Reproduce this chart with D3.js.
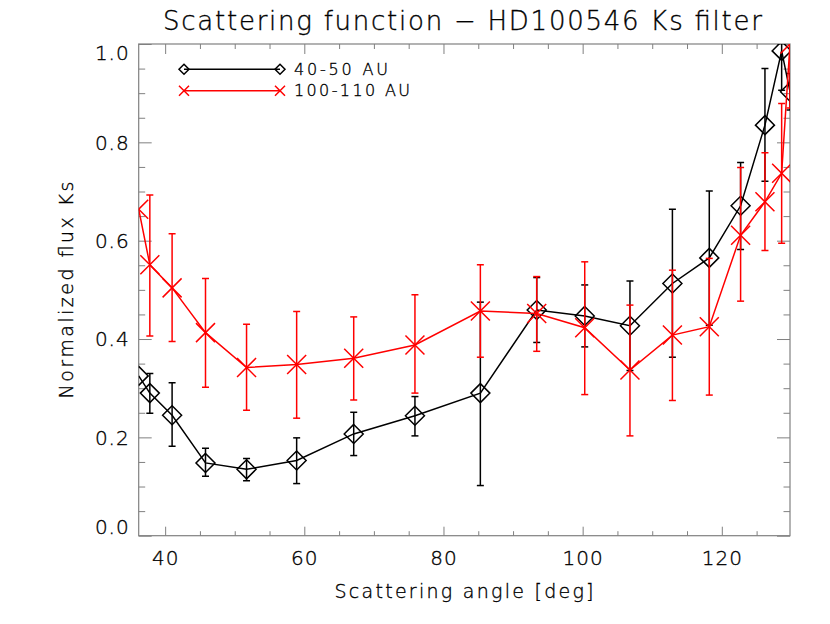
<html>
<head>
<script src="https://cdn.jsdelivr.net/npm/d3@7"></script>
<style>
  body { margin: 0; background: #fff; }
  text { font-family: "DejaVu Sans", sans-serif; font-weight: 200; fill: #000; stroke: #000; stroke-width: 0.35px; }
</style>
</head>
<body>
<svg id="chart" width="830" height="624"></svg>
<script>
// scattering angle [deg], shared by both curves
var angles = [36.2, 37.8, 41.0, 45.8, 51.7, 58.9, 67.1, 75.9, 85.3, 93.4, 100.3, 106.8, 112.9, 118.2, 122.7, 126.2, 128.6, 129.8];

// 40-50 AU (black, diamonds)
var inner = [0.325, 0.290, 0.245, 0.148, 0.135, 0.153, 0.207, 0.244, 0.290, 0.459, 0.447, 0.427, 0.513, 0.565, 0.671, 0.835, 0.986, 0.903];
var innerLo = [null, 0.249, 0.182, 0.121, 0.112, 0.106, 0.163, 0.203, 0.102, 0.393, 0.384, 0.336, 0.363, 0.428, 0.582, 0.721, 0.906, 0.866];
var innerHi = [null, 0.330, 0.311, 0.178, 0.157, 0.199, 0.251, 0.283, 0.475, 0.525, 0.510, 0.518, 0.664, 0.701, 0.759, 0.950, 1.066, 0.940];

// 100-110 AU (red, crosses)
var outer = [0.664, 0.551, 0.504, 0.413, 0.342, 0.348, 0.361, 0.388, 0.457, 0.452, 0.423, 0.337, 0.408, 0.425, 0.611, 0.679, 0.737, 1.000];
var outerLo = [null, 0.406, 0.395, 0.302, 0.255, 0.239, 0.276, 0.290, 0.363, 0.375, 0.287, 0.203, 0.275, 0.286, 0.477, 0.580, 0.595, 0.870];
var outerHi = [null, 0.693, 0.614, 0.523, 0.430, 0.456, 0.445, 0.490, 0.551, 0.527, 0.557, 0.469, 0.540, 0.564, 0.749, 0.779, 0.879, 1.130];

var xTicks = [40, 60, 80, 100, 120];
var yTicks = [0.0, 0.2, 0.4, 0.6, 0.8, 1.0];
var legendLabels = ["40-50 AU", "100-110 AU"];

var svg = d3.select("#chart");
var L = 138.7, R = 790, T = 44, B = 535.7;
var x = d3.scaleLinear().domain([36.2, 129.8]).range([L, R]);
var y = d3.scaleLinear().domain([0, 1]).range([B, T]);
var axisColor = "#808080";

// minor ticks
var xMinor = d3.range(40, 130, 5).filter(function (d) { return xTicks.indexOf(d) < 0; });
var yMinor = d3.range(0, 1.0001, 0.05).filter(function (d) { return Math.abs(d * 5 - Math.round(d * 5)) > 0.01; });

function styleAxis(g) {
  g.select(".domain").remove();
  g.selectAll("line").attr("stroke", axisColor).attr("stroke-width", 1);
  g.selectAll("text").attr("fill", "#000").style("font-size", "20px").style("letter-spacing", "1px");
}

svg.append("g").attr("transform", "translate(0," + B + ")")
  .call(d3.axisBottom(x).tickValues(xTicks).tickSize(-9).tickPadding(15).tickFormat(d3.format("d")))
  .call(styleAxis);
svg.append("g").attr("transform", "translate(0," + B + ")")
  .call(d3.axisBottom(x).tickValues(xMinor).tickSize(-4.5).tickFormat(""))
  .call(styleAxis);
svg.append("g").attr("transform", "translate(0," + T + ")")
  .call(d3.axisTop(x).tickValues(xTicks).tickSize(-10).tickFormat(""))
  .call(styleAxis);
svg.append("g").attr("transform", "translate(0," + T + ")")
  .call(d3.axisTop(x).tickValues(xMinor).tickSize(-5).tickFormat(""))
  .call(styleAxis);

var yl = svg.append("g").attr("transform", "translate(" + L + ",0)")
  .call(d3.axisLeft(y).tickValues(yTicks).tickSize(-13).tickPadding(9).tickFormat(d3.format(".1f")))
  .call(styleAxis);
// end labels pulled inside the frame
yl.selectAll(".tick text").attr("dy", function (d) {
  if (d === 0) return "-0.12em";
  if (d === 1) return "0.75em";
  return "0.34em";
});
svg.append("g").attr("transform", "translate(" + L + ",0)")
  .call(d3.axisLeft(y).tickValues(yMinor).tickSize(-6.5).tickFormat(""))
  .call(styleAxis);
svg.append("g").attr("transform", "translate(" + R + ",0)")
  .call(d3.axisRight(y).tickValues(yTicks).tickSize(-13).tickFormat(""))
  .call(styleAxis);
svg.append("g").attr("transform", "translate(" + R + ",0)")
  .call(d3.axisRight(y).tickValues(yMinor).tickSize(-6.5).tickFormat(""))
  .call(styleAxis);

svg.append("rect").attr("x", L).attr("y", T).attr("width", R - L).attr("height", B - T)
  .attr("fill", "none").attr("stroke", axisColor).attr("stroke-width", 1.2);

svg.append("clipPath").attr("id", "clip").append("rect")
  .attr("x", L).attr("y", T).attr("width", R - L).attr("height", B - T);
var plot = svg.append("g").attr("clip-path", "url(#clip)");

function diamond(g, cx, cy, h, color) {
  g.append("path")
    .attr("d", "M" + cx + "," + (cy - h) + "L" + (cx + h) + "," + cy + "L" + cx + "," + (cy + h) + "L" + (cx - h) + "," + cy + "Z")
    .attr("fill", "none").attr("stroke", color).attr("stroke-width", 1.5);
}
function cross(g, cx, cy, h, color) {
  g.append("path")
    .attr("d", "M" + (cx - h) + "," + (cy - h) + "L" + (cx + h) + "," + (cy + h) + "M" + (cx - h) + "," + (cy + h) + "L" + (cx + h) + "," + (cy - h))
    .attr("fill", "none").attr("stroke", color).attr("stroke-width", 1.5);
}

function drawSeries(vals, lo, hi, color, marker) {
  var pts = angles.map(function (a, i) { return {a: a, v: vals[i], lo: lo[i], hi: hi[i]}; });
  var line = d3.line().x(function (d) { return x(d.a); }).y(function (d) { return y(d.v); });
  plot.append("path").datum(pts).attr("d", line)
    .attr("fill", "none").attr("stroke", color).attr("stroke-width", 1.5);
  pts.forEach(function (d) {
    if (d.lo !== null) {
      var cx = x(d.a);
      plot.append("line").attr("x1", cx).attr("x2", cx).attr("y1", y(d.lo)).attr("y2", y(d.hi))
        .attr("stroke", color).attr("stroke-width", 1.5);
      [d.lo, d.hi].forEach(function (e) {
        plot.append("line").attr("x1", cx - 3.5).attr("x2", cx + 3.5).attr("y1", y(e)).attr("y2", y(e))
          .attr("stroke", color).attr("stroke-width", 1.5);
      });
    }
    marker(plot, x(d.a), y(d.v), 9.5, color);
  });
}

drawSeries(inner, innerLo, innerHi, "#000", diamond);
drawSeries(outer, outerLo, outerHi, "#ff0000", cross);

// legend
var legend = svg.append("g");
var legendColors = ["#000", "#ff0000"];
var legendMarkers = [diamond, cross];
var legendWidths = [94, 116];
legendLabels.forEach(function (lab, i) {
  var ly = 69.3 + i * 21.4;
  legend.append("line").attr("x1", 184).attr("x2", 280).attr("y1", ly).attr("y2", ly)
    .attr("stroke", legendColors[i]).attr("stroke-width", 1.5);
  legendMarkers[i](legend, 184, ly, 5, legendColors[i]);
  legendMarkers[i](legend, 280, ly, 5, legendColors[i]);
  legend.append("text").attr("x", 294).attr("y", ly).attr("dy", "0.36em")
    .attr("textLength", legendWidths[i]).attr("lengthAdjust", "spacing")
    .style("font-size", "16px").text(lab);
});

// titles
svg.append("text").attr("x", 462.5).attr("y", 30).attr("text-anchor", "middle")
  .attr("textLength", 599).attr("lengthAdjust", "spacing")
  .style("font-size", "26px").text("Scattering function \u2212 HD100546 Ks filter");
svg.append("text").attr("x", 464).attr("y", 598).attr("text-anchor", "middle")
  .attr("textLength", 259).attr("lengthAdjust", "spacing")
  .style("font-size", "19px").text("Scattering angle [deg]");
svg.append("text").attr("transform", "translate(73,290) rotate(-90)").attr("text-anchor", "middle")
  .attr("textLength", 217).attr("lengthAdjust", "spacing")
  .style("font-size", "19px").text("Normalized flux Ks");
</script>
</body>
</html>
